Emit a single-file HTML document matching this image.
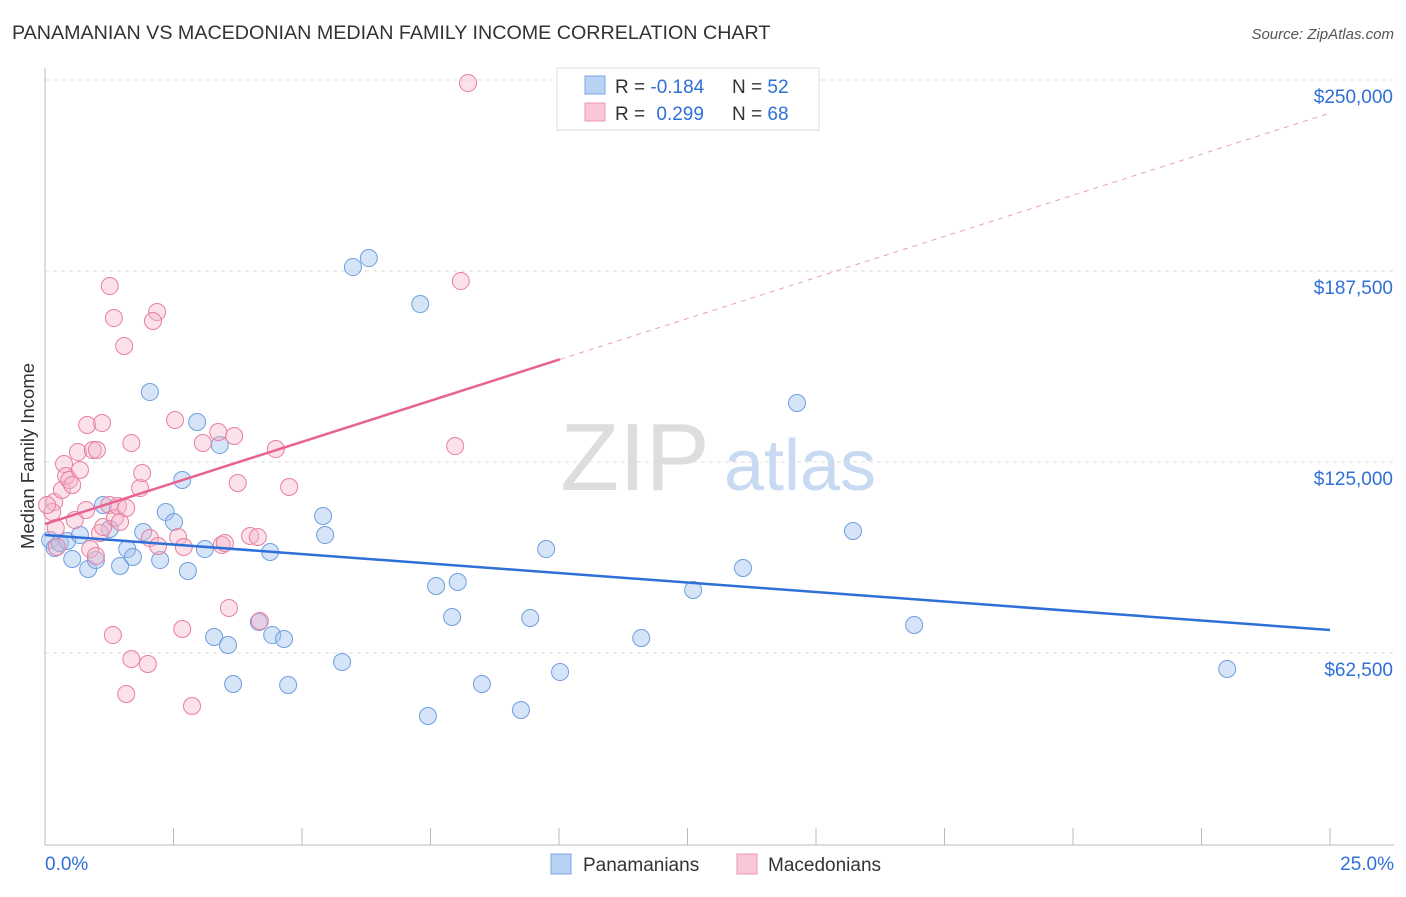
<!DOCTYPE html>
<html><head><meta charset="utf-8"><style>
body{margin:0;background:#fff;font-family:"Liberation Sans",sans-serif}
svg text{font-family:"Liberation Sans",sans-serif}
</style></head><body>
<svg id="c" width="1406" height="892">
<text x="12" y="39" font-size="19.7" fill="#333">PANAMANIAN VS MACEDONIAN MEDIAN FAMILY INCOME CORRELATION CHART</text>
<text x="1394" y="39" font-size="15" fill="#555" font-style="italic" text-anchor="end">Source: ZipAtlas.com</text>
<text x="34" y="456" font-size="18.5" fill="#333" text-anchor="middle" transform="rotate(-90 34 456)">Median Family Income</text>
<g><text x="635" y="490" font-size="96" fill="#ddd" text-anchor="middle" font-family="Liberation Serif">ZIP</text><text x="800" y="490" font-size="72" fill="#c8daf2" text-anchor="middle">atlas</text></g>
<g id="grid"></g><g id="axes"></g><g id="lines"></g><g id="pts"></g>
<g>
<rect x="557" y="68" width="262" height="62" fill="#fff" stroke="#ddd"/>
<rect x="585" y="76" width="20" height="18" fill="#b8d2f4" stroke="#7aa6e4"/>
<rect x="585" y="103" width="20" height="18" fill="#f9c7d6" stroke="#ec9ab4"/>
<text x="615" y="93" font-size="19" fill="#333">R = <tspan fill="#2f6fd6">-0.184</tspan></text>
<text x="732" y="93" font-size="19" fill="#333">N = <tspan fill="#2f6fd6">52</tspan></text>
<text x="615" y="120" font-size="19" fill="#333">R = <tspan fill="#2f6fd6" dx="6">0.299</tspan></text>
<text x="732" y="120" font-size="19" fill="#333">N = <tspan fill="#2f6fd6">68</tspan></text>
</g>
<g>
<rect x="551" y="854" width="20" height="20" fill="#b8d2f4" stroke="#7aa6e4"/>
<text x="583" y="871" font-size="19" fill="#333">Panamanians</text>
<rect x="737" y="854" width="20" height="20" fill="#f9c7d6" stroke="#ec9ab4"/>
<text x="768" y="871" font-size="19" fill="#333">Macedonians</text>
</g>
</svg>
<script>
const blueX=[0.10,0.19,0.29,0.43,0.53,0.68,0.84,0.99,1.13,1.26,1.46,1.60,1.71,1.91,2.04,2.24,2.35,2.51,2.67,2.78,2.96,3.11,3.29,3.40,3.56,3.66,4.16,4.38,4.42,4.65,4.73,5.41,5.45,5.78,5.99,6.30,7.30,7.45,7.61,7.92,8.03,8.50,9.26,9.44,9.75,10.02,11.60,12.61,13.58,14.63,15.72,16.91,23.00];
const blueY=[99470,96850,98490,99140,93250,101100,89980,92920,110920,103070,90960,96520,93910,102090,147890,92920,108630,105360,119100,89330,138080,96520,67730,130550,65110,52350,72640,95540,68380,67080,52030,107320,101100,59550,188790,191740,176690,41880,84420,74280,85730,52350,43840,73950,96520,56280,67400,83110,90310,144300,102420,71660,57260];
const pinkX=[8.23,1.26,8.09,1.34,2.18,2.10,1.54,0.18,0.14,0.21,0.23,0.33,0.37,0.41,0.47,0.53,0.64,0.68,0.58,0.80,0.82,0.93,1.01,1.11,0.88,0.99,1.07,1.13,1.25,1.36,1.42,1.46,1.58,1.32,1.58,1.68,1.85,1.89,2.04,2.20,1.68,2.00,2.53,2.59,2.67,2.70,2.86,3.07,3.37,3.44,3.50,3.58,3.68,3.75,3.99,4.14,4.18,4.49,4.75,7.98,0.04];
const pinkY=[249000,182580,184210,172110,174070,171130,162950,111900,108630,103400,97180,115830,124340,120410,119100,117470,128260,122380,106010,109290,137100,128920,128920,137750,96520,94230,101760,103720,110920,106670,110590,105360,109940,68380,49080,131210,116480,121390,100120,97510,60530,58900,138730,100450,70350,97180,45150,131210,134810,97830,98490,77220,133500,118120,100780,100450,72970,129240,116810,130220,110920];
const blueTrend=[101100,70020];
const pinkTrend=[104700,239180];
const pinkSolidEnd=10.02;
const yTicks=[62500,125000,187500,250000];
const yTickLabels=["$62,500","$125,000","$187,500","$250,000"];
const NS="http://www.w3.org/2000/svg";
const sx=v=>45+v/25*1285, sy=v=>844-v/250000*764;
function mk(t,a,p){const e=document.createElementNS(NS,t);for(const k in a)e.setAttribute(k,a[k]);document.getElementById(p).appendChild(e);return e;}
yTicks.forEach((t,i)=>{
 const g=mk('line',{x1:45,x2:1394,y1:sy(t),y2:sy(t),stroke:'#ddd','stroke-dasharray':'4,4'},'grid');
 
 
 const l=mk('text',{x:1393,y:sy(t)+23,'font-size':19,fill:'#2f6fd6','text-anchor':'end'},'axes');
 l.textContent=yTickLabels[i];
 
 
});
mk('line',{x1:45,x2:45,y1:68,y2:845,stroke:'#bbb'},'axes');
mk('line',{x1:45,x2:1394,y1:845,y2:845,stroke:'#bbb'},'axes');
for(let i=0;i<=10;i++){const t=mk('line',{x1:sx(i*2.5),x2:sx(i*2.5),y1:828,y2:845,stroke:'#bbb'},'axes');
 
 }
let a=mk('text',{x:45,y:870,'font-size':19,fill:'#2f6fd6'},'axes');a.textContent='0.0%';


a=mk('text',{x:1394,y:870,'font-size':19,fill:'#2f6fd6','text-anchor':'end'},'axes');a.textContent='25.0%';


const pslope=(pinkTrend[1]-pinkTrend[0])/25;
let ln=mk('line',{x1:sx(pinkSolidEnd),y1:sy(pinkTrend[0]+pslope*pinkSolidEnd),x2:sx(25),y2:sy(pinkTrend[1]),stroke:'#eaa0b8','stroke-dasharray':'5,5'},'lines');


blueX.forEach((x,i)=>{const c=mk('circle',{cx:sx(x),cy:sy(blueY[i]),r:8.5,fill:'rgba(164,196,238,0.45)',stroke:'#6f9fe0','stroke-width':1},'pts');
 
 });
pinkX.forEach((x,i)=>{const c=mk('circle',{cx:sx(x),cy:sy(pinkY[i]),r:8.5,fill:'rgba(244,180,200,0.4)',stroke:'#e87fa0','stroke-width':1},'pts');
 
 });
ln=mk('line',{x1:sx(0),y1:sy(blueTrend[0]),x2:sx(25),y2:sy(blueTrend[1]),stroke:'#2e6fd8','stroke-width':2.5},'pts');


ln=mk('line',{x1:sx(0),y1:sy(pinkTrend[0]),x2:sx(pinkSolidEnd),y2:sy(pinkTrend[0]+pslope*pinkSolidEnd),stroke:'#e8638f','stroke-width':2.5},'pts');


</script>
</body></html>
